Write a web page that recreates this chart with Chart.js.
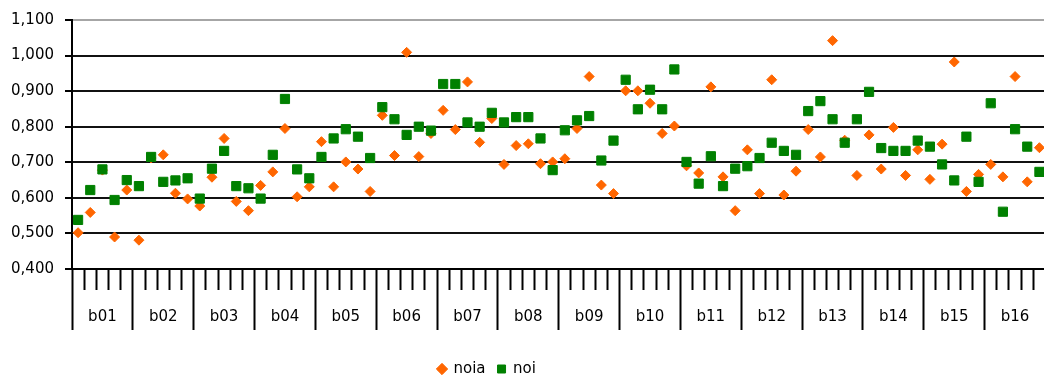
<!DOCTYPE html>
<html>
<head>
<meta charset="utf-8">
<script src="https://cdn.jsdelivr.net/npm/chart.js@4/dist/chart.umd.min.js"></script>
<style>
  html, body { margin: 0; padding: 0; overflow: hidden; background: #fff; }
  canvas { display: block; }
</style>
</head>
<body>
<canvas id="chart" width="1053" height="390"></canvas>
<script>
// Groups on the outer axis and the five items inside each group
const groups = ['b01', 'b02', 'b03', 'b04', 'b05', 'b06', 'b07', 'b08',
                'b09', 'b10', 'b11', 'b12', 'b13', 'b14', 'b15', 'b16'];
const subItems = ['1', '2', '3', '4', '5'];
const categories = groups.flatMap(g => subItems.map(s => g + '.' + s));

// Series values, one per item (5 per group)
const noia = [
  0.502, 0.559, 0.678, 0.490, 0.622,
  0.481, 0.712, 0.721, 0.613, 0.597,
  0.577, 0.658, 0.767, 0.590, 0.564,
  0.635, 0.673, 0.795, 0.603, 0.631,
  0.758, 0.631, 0.701, 0.681, 0.618,
  0.832, 0.719, 1.009, 0.716, 0.781,
  0.846, 0.792, 0.926, 0.756, 0.823,
  0.694, 0.747, 0.752, 0.696, 0.701,
  0.710, 0.795, 0.941, 0.636, 0.612,
  0.901, 0.901, 0.866, 0.781, 0.802,
  0.690, 0.670, 0.912, 0.659, 0.564,
  0.735, 0.612, 0.932, 0.608, 0.675,
  0.792, 0.715, 1.042, 0.762, 0.663,
  0.777, 0.681, 0.798, 0.663, 0.735,
  0.652, 0.751, 0.982, 0.618, 0.666,
  0.694, 0.659, 0.941, 0.645, 0.741
];
const noi = [
  0.538, 0.622, 0.680, 0.594, 0.650,
  0.633, 0.715, 0.645, 0.649, 0.655,
  0.598, 0.682, 0.732, 0.633, 0.627,
  0.598, 0.721, 0.878, 0.680, 0.655,
  0.715, 0.767, 0.793, 0.772, 0.712,
  0.855, 0.821, 0.777, 0.800, 0.789,
  0.920, 0.920, 0.812, 0.800, 0.839,
  0.812, 0.827, 0.827, 0.767, 0.678,
  0.790, 0.818, 0.830, 0.705, 0.761,
  0.932, 0.849, 0.904, 0.849, 0.961,
  0.701, 0.640, 0.717, 0.633, 0.682,
  0.689, 0.712, 0.755, 0.732, 0.721,
  0.844, 0.872, 0.821, 0.755, 0.821,
  0.898, 0.740, 0.732, 0.732, 0.761,
  0.744, 0.694, 0.649, 0.772, 0.645,
  0.866, 0.561, 0.793, 0.744, 0.673
];

// Value axis range and step
const yMin = 0.4;
const yMax = 1.1;
const yStep = 0.1;

const seriesNames = ['noia', 'noi'];
const ORANGE = '#FF6600';
const GREEN = '#008000';

Chart.defaults.font.family = "'DejaVu Sans', sans-serif";
Chart.defaults.font.size = 15;
Chart.defaults.color = '#000';

// Places the legend row so that it starts at a fixed x position
const legendStartX = 438;
const legendShift = {
  id: 'legendShift',
  afterLayout(chart) {
    const lg = chart.legend;
    if (!lg || !lg.lineWidths) return;
    const pad = lg.options.labels.padding;
    const x0 = (lg.left + pad + lg.right - lg.lineWidths[0]) / 2;
    const dx = legendStartX - x0;
    lg.left += dx;
    lg.right += dx;
  }
};

new Chart(document.getElementById('chart'), {
  type: 'line',
  data: {
    labels: categories,
    datasets: [
      {
        label: seriesNames[0],
        data: noia,
        order: 2,
        showLine: false,
        pointStyle: 'rectRot',
        pointRadius: 5,
        pointHoverRadius: 5,
        pointBorderWidth: 1,
        backgroundColor: ORANGE,
        borderColor: ORANGE,
        pointBackgroundColor: ORANGE,
        pointBorderColor: ORANGE
      },
      {
        label: seriesNames[1],
        data: noi,
        order: 1,
        showLine: false,
        pointStyle: 'rect',
        pointRadius: 6.5,
        pointHoverRadius: 6.5,
        pointBorderWidth: 1,
        backgroundColor: GREEN,
        borderColor: GREEN,
        pointBackgroundColor: GREEN,
        pointBorderColor: GREEN
      }
    ]
  },
  options: {
    responsive: false,
    devicePixelRatio: 1,
    animation: false,
    events: [],
    layout: { padding: { top: 16.5, left: 0, right: 0, bottom: 3.5 } },
    plugins: {
      tooltip: { enabled: false },
      legend: {
        position: 'bottom',
        labels: {
          usePointStyle: true,
          boxWidth: 8,
          boxHeight: 8,
          padding: 12,
          color: '#000',
          font: { size: 15 },
          sort: (a, b) => a.datasetIndex - b.datasetIndex
        }
      }
    },
    scales: {
      x: {
        type: 'category',
        position: 'bottom',
        offset: true,
        weight: 0,
        ticks: { display: false, autoSkip: false },
        grid: {
          offset: true,
          drawOnChartArea: false,
          drawTicks: true,
          tickLength: 21,
          tickWidth: 2,
          tickColor: '#000'
        },
        border: { display: true, color: '#000', width: 2 }
      },
      groupAxis: {
        type: 'category',
        labels: groups,
        position: 'bottom',
        offset: true,
        weight: 1,
        ticks: {
          autoSkip: false,
          maxRotation: 0,
          padding: -22,
          color: '#000',
          font: { size: 15 }
        },
        grid: {
          offset: true,
          drawOnChartArea: false,
          drawTicks: true,
          tickLength: 40,
          tickWidth: 2,
          tickColor: '#000'
        },
        border: { display: false },
        afterFit: s => { s.height = 59.5; }
      },
      y: {
        min: yMin,
        max: yMax,
        ticks: {
          stepSize: yStep,
          padding: 11,
          color: '#000',
          font: { size: 15 },
          callback: v => Number(v).toFixed(3).replace('.', ',')
        },
        grid: {
          color: c => (c.tick && c.tick.value > yMax - 1e-6) ? '#a6a6a6' : '#111',
          lineWidth: 2,
          drawTicks: true,
          tickLength: 7,
          tickWidth: 2,
          tickColor: '#000'
        },
        border: { display: true, color: '#000', width: 2 },
        afterFit: s => { s.width = 72; }
      }
    }
  },
  plugins: [legendShift]
});
</script>
</body>
</html>
